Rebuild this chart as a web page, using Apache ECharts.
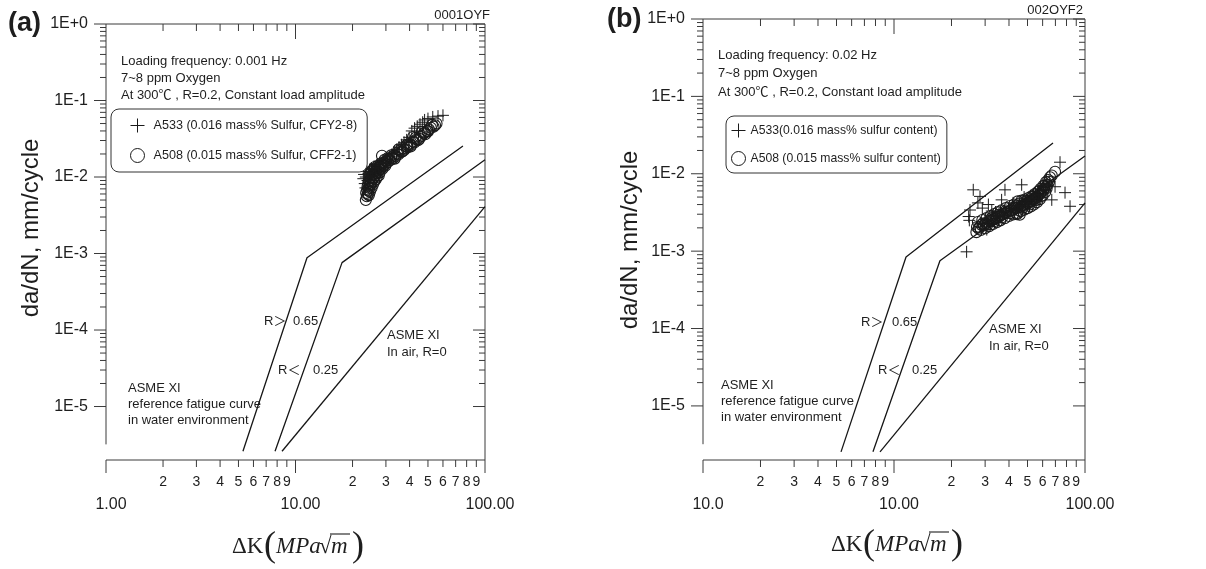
<!DOCTYPE html>
<html>
<head>
<meta charset="utf-8">
<title>da/dN vs ΔK</title>
<script src="https://cdn.jsdelivr.net/npm/echarts@6/dist/echarts.min.js"></script>
<style>
  html, body { margin: 0; padding: 0; background: #fff; }
  #chart { width: 1206px; height: 569px; }
</style>
</head>
<body>
<div id="chart"></div>
<script>
// ---- axis ranges and tick labels ----
const X_MIN = 1, X_MAX = 100;
const Y_MIN = 2e-6, Y_MAX = 1;
const Y_LEFT_END = 3.2e-6;            // left frame line stops a little above the x axis
const xMajorTicks = [1, 10, 100];
const xMinorDigits = [2, 3, 4, 5, 6, 7, 8, 9];
const xMajorLabelsA = ['1.00', '10.00', '100.00'];
const xMajorLabelsB = ['10.0', '10.00', '100.00'];
const yDecades = [1, 1e-1, 1e-2, 1e-3, 1e-4, 1e-5];
const yDecadeLabels = ['1E+0', '1E-1', '1E-2', '1E-3', '1E-4', '1E-5'];

// ---- ASME XI reference curves, panel (a) ----
const asmeHighR_A = [[5.28, 2.6e-6], [11.5, 8.8e-4], [76.5, 0.0255]];
const asmeLowR_A  = [[7.8, 2.6e-6], [17.6, 7.6e-4], [100, 0.0168]];
const asmeAir_A   = [[8.49, 2.6e-6], [100, 4.1e-3]];
// ---- ASME XI reference curves, panel (b) ----
const asmeHighR_B = [[5.28, 2.55e-6], [11.56, 8.4e-4], [68, 0.025]];
const asmeLowR_B  = [[7.76, 2.55e-6], [17.4, 7.5e-4], [100, 0.017]];
const asmeAir_B   = [[8.45, 2.55e-6], [100, 4.2e-3]];

// ---- crack growth data, 0.001 Hz ----
const a533_A = [
  [22.8,0.0095],[23.0,0.0108],[23.2,0.0082],[23.4,0.0072],[23.5,0.0100],[23.8,0.0118],[24.0,0.0090],
  [24.3,0.0112],[24.6,0.0125],[24.8,0.0100],[25.2,0.0130],[25.5,0.0115],[26.0,0.0138],[26.4,0.0122],
  [26.9,0.0145],[27.4,0.0134],[28.0,0.0152],[28.6,0.0143],[29.2,0.0162],[29.9,0.0155],[30.6,0.0172],
  [31.4,0.0186],[32.3,0.0198],[33.2,0.0212],[34.2,0.0228],[35.2,0.0245],[36.3,0.0264],[37.4,0.0284],
  [38.6,0.0306],[39.8,0.0330],[41.1,0.0400],[42.5,0.0435],[43.9,0.0460],[45.4,0.0490],[46.9,0.0520],
  [48.0,0.0557],[50.0,0.0580],[53.0,0.0610],[56.5,0.0625],[60.0,0.0640]
];
const a508_A = [
  [23.5,0.0050],[23.8,0.0056],[23.6,0.0062],[24.1,0.0060],[23.9,0.0068],[24.3,0.0066],[24.0,0.0075],
  [24.5,0.0072],[24.2,0.0082],[24.8,0.0078],[24.5,0.0090],[25.1,0.0086],[24.9,0.0097],[25.5,0.0092],
  [25.3,0.0104],[25.9,0.0099],[25.7,0.0110],[26.3,0.0105],[26.2,0.0117],[26.8,0.0112],[26.7,0.0124],
  [27.3,0.0118],[27.3,0.0131],[27.9,0.0126],[27.9,0.0138],[28.5,0.0133],[28.6,0.0190],[28.6,0.0146],
  [29.2,0.0141],[29.3,0.0154],[29.9,0.0149],[30.1,0.0162],[30.7,0.0157],
  [24.7,0.0064],[25.6,0.0080],[26.5,0.0093],[27.5,0.0105],[25.0,0.0118],[26.0,0.0128],
  [24.4,0.0058],[25.2,0.0072],[26.0,0.0087],[26.9,0.0100],[27.8,0.0115],[28.8,0.0128],[29.8,0.0140],
  [30.5,0.0175],[29.5,0.0168],[28.2,0.0150],[27.2,0.0140],[26.2,0.0135],[25.4,0.0122],[24.6,0.0110],
  [31.0,0.0170],[31.6,0.0166],[32.0,0.0180],[32.6,0.0175],[33.1,0.0191],[33.7,0.0186],[34.3,0.0203],
  [34.9,0.0197],[35.6,0.0222],[36.2,0.0212],[37.0,0.0236],[37.6,0.0228],[38.5,0.0252],[39.1,0.0246],
  [40.1,0.0270],[40.7,0.0262],[41.7,0.0334],[41.8,0.0290],[42.4,0.0282],[43.6,0.0310],[44.3,0.0302],
  [45.5,0.0336],[46.4,0.0390],[46.3,0.0346],[47.5,0.0370],[48.4,0.0362],[49.6,0.0400],[50.6,0.0420],
  [51.8,0.0440],[52.5,0.0480],[54.5,0.0475],[55.5,0.0500],
  [32.0,0.0192],[33.4,0.0174],[35.0,0.0230],[36.8,0.0218],[38.8,0.0265],[40.5,0.0250],[43.0,0.0325],
  [45.0,0.0315],[48.0,0.0382],[50.0,0.0395],[53.5,0.0455]
];

// ---- crack growth data, 0.02 Hz ----
const a533_B = [
  [24.0,0.00098],[24.6,0.0028],[25.0,0.0034],[24.8,0.0025],[26.0,0.0062],[28.2,0.0051],[27.5,0.0042],
  [29.0,0.0036],[30.6,0.0019],[31.2,0.0040],[32.5,0.0033],[34.0,0.0032],[36.6,0.0046],[38.1,0.0062],
  [40.0,0.0036],[42.0,0.0042],[44.0,0.0038],[46.6,0.0072],[48.0,0.0050],[50.0,0.0045],[52.0,0.0052],
  [55.0,0.0055],[58.0,0.0058],[60.3,0.0066],[63.0,0.0074],[65.0,0.0080],[67.0,0.0046],[69.7,0.0068],
  [74.0,0.0141],[78.6,0.0057],[83.5,0.0038],
  [28.5,0.0023],[30.0,0.0026],[33.0,0.0029],[35.5,0.0031],[37.5,0.0033],[41.0,0.0034],[45.0,0.0039],
  [49.0,0.0043],[53.0,0.0048],[57.0,0.0054],[61.0,0.0062],[64.0,0.0070]
];
const a508_B = [
  // lower edge of the band
  [27.0,0.00176],[28.5,0.00188],[30.0,0.00198],[31.5,0.00210],[33.0,0.00224],[34.5,0.00236],[36.0,0.00250],
  [38.0,0.00266],[40.0,0.00284],[42.0,0.00297],[44.0,0.00310],[46.0,0.00327],[48.0,0.00344],[50.0,0.00360],
  [52.0,0.00378],[54.0,0.00400],[56.0,0.00430],[58.0,0.00470],[60.0,0.00520],[62.0,0.00580],
  // middle of the band
  [27.2,0.00205],[28.7,0.00218],[30.2,0.00230],[31.7,0.00245],[33.2,0.00260],[34.7,0.00275],[36.2,0.00290],
  [38.2,0.00310],[40.2,0.00330],[42.2,0.00345],[44.2,0.00362],[46.2,0.00380],[48.2,0.00400],[50.2,0.00420],
  [52.2,0.00440],[54.2,0.00470],[56.2,0.00500],[58.2,0.00550],[60.2,0.00600],[62.2,0.00670],[63.5,0.00720],
  [64.8,0.00790],
  // upper edge of the band
  [27.5,0.00238],[29.0,0.00253],[30.5,0.00267],[32.0,0.00284],[33.5,0.00302],[35.0,0.00319],[36.5,0.00336],
  [38.5,0.00360],[40.5,0.00383],[42.5,0.00400],[44.5,0.00440],[46.5,0.00450],[48.5,0.00464],[50.5,0.00487],
  [52.5,0.00510],[54.5,0.00545],[56.5,0.00580],[58.5,0.00640],[60.5,0.00700],[62.5,0.00780],
  // fill and upper tail
  [28.0,0.00205],[29.5,0.00215],[31.0,0.00235],[32.5,0.00250],[34.0,0.00265],[35.5,0.00280],[37.0,0.00300],
  [39.0,0.00320],[41.0,0.00335],[43.0,0.00360],[44.0,0.00300],[45.5,0.00295],[47.0,0.00390],[49.0,0.00410],
  [51.0,0.00430],[53.0,0.00460],[55.0,0.00480],[57.0,0.00530],[59.0,0.00580],[61.0,0.00640],
  [27.8,0.00195],[29.2,0.00228],[30.8,0.00220],[32.3,0.00265],[33.8,0.00245],[35.3,0.00295],[36.8,0.00275],
  [38.6,0.00335],[40.6,0.00310],[42.6,0.00370],[43.8,0.00390],[45.2,0.00410],[45.0,0.00340],[47.3,0.00365],
  [49.3,0.00445],[51.3,0.00400],[53.3,0.00505],[55.3,0.00455],[57.3,0.00600],[59.3,0.00520],[61.3,0.00700],
  [63.0,0.00650],[64.2,0.00830],
  [65.6,0.00900],[67.0,0.00950],[69.7,0.01060]
];

const NAME_A533_A = 'A533 (0.016 mass% Sulfur, CFY2-8)';
const NAME_A508_A = 'A508 (0.015 mass% Sulfur, CFF2-1)';
const NAME_A533_B = 'A533(0.016 mass% sulfur content)';
const NAME_A508_B = 'A508 (0.015 mass% sulfur content)';

// ---- styling ----
const FONT = '"Liberation Sans", Arial, "Noto Sans CJK SC", sans-serif';
const SERIF = '"Liberation Serif", "Times New Roman", serif';
const AXIS_COLOR = '#3a3a3a';
const TEXT_COLOR = '#1e1e1e';
const LINE_COLOR = '#161616';
const MARK_COLOR = '#1a1a1a';
const PLUS = 'path://M5,0L5,10M0,5L10,5';

function textStyle(s, font, align, valign) {
  return { text: s, font: font, fill: TEXT_COLOR,
           align: align, verticalAlign: valign, textAlign: align, textVerticalAlign: valign };
}

// frame, log ticks and tick labels drawn through the grid's own log scales
function frameRenderer(xLabels) {
  return function (params, api) {
    const ch = [];
    const seg = (a, b, w) => ch.push({ type: 'line',
      shape: { x1: a[0], y1: a[1], x2: b[0], y2: b[1] },
      style: { stroke: AXIS_COLOR, lineWidth: w || 1 } });
    const txt = (s, x, y, font, align) => ch.push({ type: 'text', style: Object.assign(textStyle(s, font, align, 'middle'), { x: x, y: y }) });
    const c = (x, y) => api.coord([x, y]);
    const tl = c(X_MIN, Y_MAX), br = c(X_MAX, Y_MIN);
    const x0 = tl[0], yTop = tl[1], x1 = br[0], yBot = br[1];
    const yLeftEnd = c(X_MIN, Y_LEFT_END)[1];
    seg([x0, yTop], [x1, yTop]);
    seg([x1, yTop], [x1, yBot]);
    seg([x0, yBot], [x1, yBot]);
    seg([x0, yTop], [x0, yLeftEnd]);
    xMajorTicks.forEach((v, i) => {
      const x = c(v, Y_MAX)[0];
      seg([x, yBot], [x, yBot + 13]);
      if (v > X_MIN && v < X_MAX) seg([x, yTop], [x, yTop + 15]);
      txt(xLabels[i], x + 5, yBot + 45, '16px ' + FONT, 'center');
    });
    [1, 10].forEach(d => xMinorDigits.forEach(k => {
      const x = c(d * k, Y_MAX)[0];
      seg([x, yBot], [x, yBot + 7]);
      seg([x, yTop], [x, yTop + 7]);
      txt(String(k), x, yBot + 22, '14px ' + FONT, 'center');
    }));
    yDecades.forEach((v, i) => {
      const y = c(X_MIN, v)[1];
      seg([x0 - 12, y], [x0, y]);
      seg([x1 - 12, y], [x1, y]);
      txt(yDecadeLabels[i], x0 - 18, y, '16px ' + FONT, 'right');
      if (v < 1) xMinorDigits.forEach(k => {
        const yy = c(X_MIN, v * k)[1];
        seg([x0 - 6, yy], [x0, yy]);
        seg([x1 - 6, yy], [x1, yy]);
      });
    });
    return { type: 'group', children: ch };
  };
}

function curve(data, idx) {
  return { type: 'line', data: data, xAxisIndex: idx, yAxisIndex: idx, showSymbol: false, symbol: 'none',
           silent: true, lineStyle: { color: LINE_COLOR, width: 1.3 }, z: 2 };
}
function plusSeries(name, data, idx) {
  return { type: 'scatter', name: name, data: data, xAxisIndex: idx, yAxisIndex: idx,
           symbol: PLUS, symbolSize: 12, silent: true, z: 3,
           itemStyle: { color: 'none', borderColor: MARK_COLOR, borderWidth: 1, opacity: 1 } };
}
function circleSeries(name, data, idx) {
  return { type: 'scatter', name: name, data: data, xAxisIndex: idx, yAxisIndex: idx,
           symbol: 'circle', symbolSize: 11, silent: true, z: 3,
           itemStyle: { color: 'none', borderColor: MARK_COLOR, borderWidth: 1.1, opacity: 1 } };
}

function axisPair() {
  return {
    x: { type: 'log', logBase: 10, min: X_MIN, max: X_MAX, show: false },
    y: { type: 'log', logBase: 10, min: Y_MIN, max: Y_MAX, show: false }
  };
}
const axA = axisPair(), axB = axisPair();

function plainText(s, x, y, size, extra) {
  return Object.assign({ type: 'text', x: x, y: y, silent: true,
    style: textStyle(s, (size || 13) + 'px ' + FONT, 'left', 'middle') }, extra || {});
}

// x-axis title  ΔK (MPa√m), assembled from serif pieces
function deltaKTitle(ox, oy) {
  const piece = (s, dx, font) => ({ type: 'text', x: dx, y: 0, style: textStyle(s, font, 'left', 'middle') });
  return {
    type: 'group', x: ox, y: oy, silent: true,
    children: [
      piece('ΔK', 0, '23px ' + SERIF),
      piece('(', 32, '36px ' + SERIF),
      piece('MPa', 44, 'italic 23px ' + SERIF),
      piece('√', 87, '23px ' + SERIF),
      piece('m', 99, 'italic 23px ' + SERIF),
      { type: 'line', shape: { x1: 98, y1: -13, x2: 118, y2: -13 }, style: { stroke: TEXT_COLOR, lineWidth: 1.1 } },
      piece(')', 120, '36px ' + SERIF)
    ]
  };
}

function legendBox(names, left, top, pad, gap, size, textPad) {
  return {
    data: names, orient: 'vertical', left: left, top: top, padding: pad,
    itemGap: gap, itemWidth: 14, itemHeight: 14, selectedMode: false,
    borderColor: '#333', borderWidth: 1, borderRadius: 8, backgroundColor: '#fff',
    itemStyle: { borderWidth: 1, borderColor: MARK_COLOR, color: 'none' },
    textStyle: { fontSize: size, lineHeight: 14, color: TEXT_COLOR, fontFamily: FONT, padding: [0, 0, 0, textPad] }
  };
}

const chart = echarts.init(document.getElementById('chart'), null, { renderer: 'canvas' });
chart.setOption({
  animation: false,
  backgroundColor: '#fff',
  grid: [
    { left: 106, top: 24, width: 379, height: 436 },
    { left: 703, top: 19, width: 382, height: 441 }
  ],
  xAxis: [Object.assign({ gridIndex: 0 }, axA.x), Object.assign({ gridIndex: 1 }, axB.x)],
  yAxis: [Object.assign({ gridIndex: 0 }, axA.y), Object.assign({ gridIndex: 1 }, axB.y)],
  legend: [
    legendBox([NAME_A533_A, NAME_A508_A], 111, 109, [7, 10, 7, 17], 11, 12.6, 4),
    legendBox([NAME_A533_B, NAME_A508_B], 726, 116, [5, 6, 5, 3], 9, 12.2, 0)
  ],
  series: [
    { type: 'custom', xAxisIndex: 0, yAxisIndex: 0, data: [[1, 1]], silent: true, z: 1,
      renderItem: frameRenderer(xMajorLabelsA) },
    { type: 'custom', xAxisIndex: 1, yAxisIndex: 1, data: [[1, 1]], silent: true, z: 1,
      renderItem: frameRenderer(xMajorLabelsB) },
    curve(asmeHighR_A, 0), curve(asmeLowR_A, 0), curve(asmeAir_A, 0),
    curve(asmeHighR_B, 1), curve(asmeLowR_B, 1), curve(asmeAir_B, 1),
    circleSeries(NAME_A508_A, a508_A, 0),
    plusSeries(NAME_A533_A, a533_A, 0),
    circleSeries(NAME_A508_B, a508_B, 1),
    plusSeries(NAME_A533_B, a533_B, 1)
  ],
  graphic: [
    // panel (a)
    plainText('(a)', 8, 24, 27, { style: textStyle('(a)', 'bold 27px ' + FONT, 'left', 'middle') }),
    plainText('0001OYF', 490, 15, 13, { style: textStyle('0001OYF', '13px ' + FONT, 'right', 'middle') }),
    plainText('Loading frequency: 0.001 Hz', 121, 61),
    plainText('7~8 ppm Oxygen', 121, 78),
    plainText('At 300℃ , R=0.2, Constant load amplitude', 121, 95),
    plainText('R＞', 264, 321), plainText('0.65', 293, 321),
    plainText('R＜', 278, 370), plainText('0.25', 313, 370),
    plainText('ASME XI', 387, 335), plainText('In air, R=0', 387, 352),
    plainText('ASME XI', 128, 388), plainText('reference fatigue curve', 128, 404),
    plainText('in water environment', 128, 420),
    { type: 'text', x: 31, y: 228, rotation: Math.PI / 2, silent: true,
      style: textStyle('da/dN, mm/cycle', '24px ' + FONT, 'center', 'middle') },
    deltaKTitle(232, 547),
    // panel (b)
    plainText('(b)', 607, 20, 27, { style: textStyle('(b)', 'bold 27px ' + FONT, 'left', 'middle') }),
    plainText('002OYF2', 1083, 10, 13, { style: textStyle('002OYF2', '13px ' + FONT, 'right', 'middle') }),
    plainText('Loading frequency: 0.02 Hz', 718, 55),
    plainText('7~8 ppm Oxygen', 718, 73),
    plainText('At 300℃ , R=0.2, Constant load amplitude', 718, 92),
    plainText('R＞', 861, 322), plainText('0.65', 892, 322),
    plainText('R＜', 878, 370), plainText('0.25', 912, 370),
    plainText('ASME XI', 989, 329), plainText('In air, R=0', 989, 346),
    plainText('ASME XI', 721, 385), plainText('reference fatigue curve', 721, 401),
    plainText('in water environment', 721, 417),
    { type: 'text', x: 630, y: 240, rotation: Math.PI / 2, silent: true,
      style: textStyle('da/dN, mm/cycle', '24px ' + FONT, 'center', 'middle') },
    deltaKTitle(831, 545)
  ]
});
</script>
</body>
</html>
